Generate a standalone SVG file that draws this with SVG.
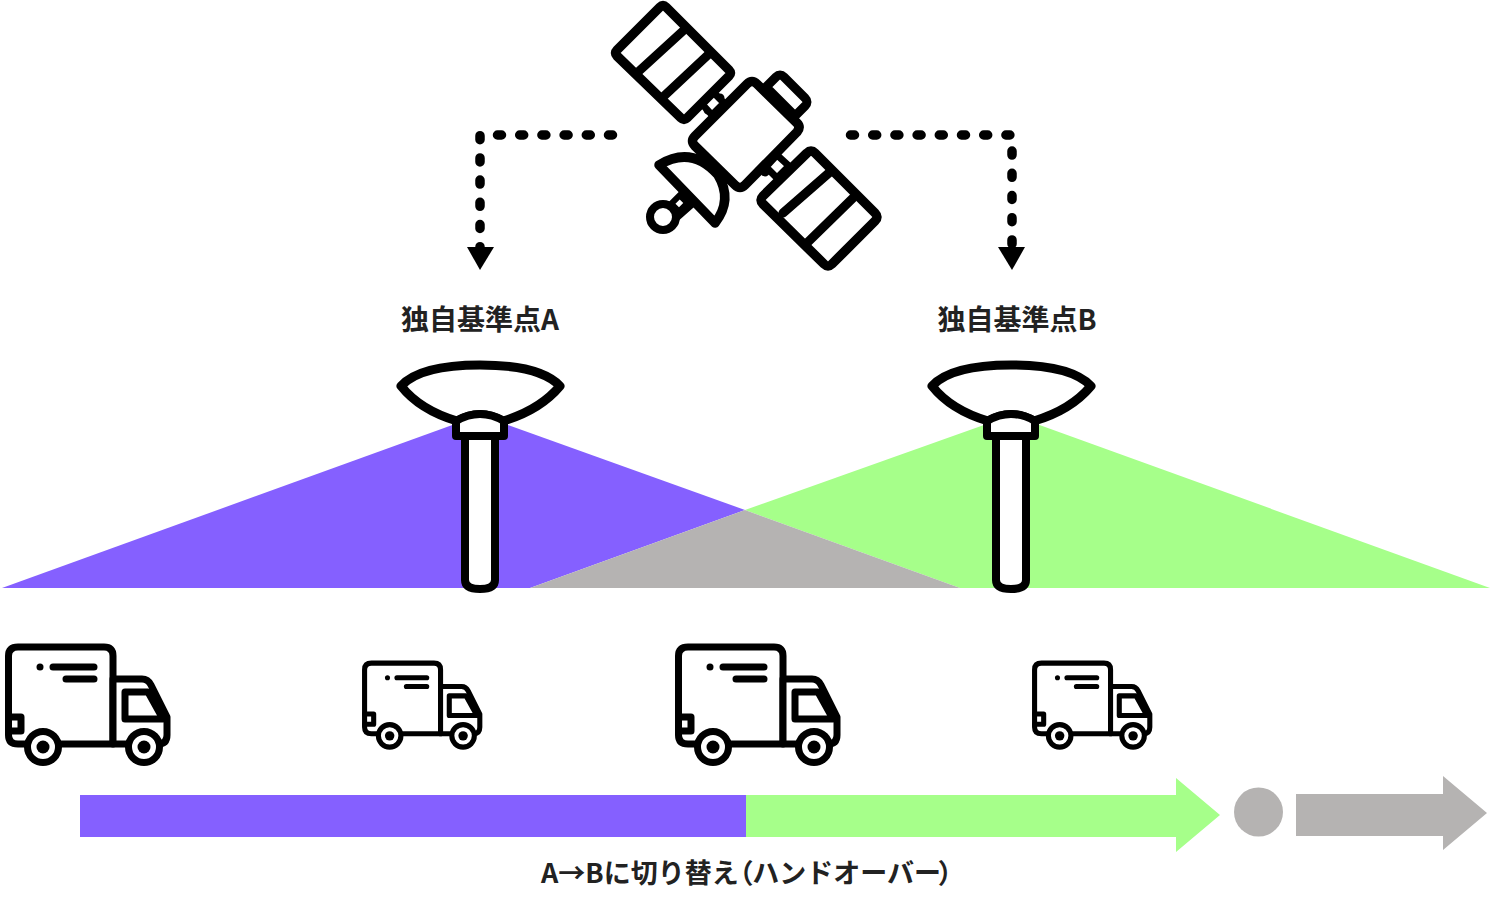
<svg xmlns="http://www.w3.org/2000/svg" width="1492" height="914" viewBox="0 0 1492 914">
<style>
.ln{fill:none;stroke:#000;stroke-linecap:round;stroke-linejoin:round}
.wh{fill:#fff;stroke:#000;stroke-linecap:round;stroke-linejoin:round}
.conn{fill:none;stroke:#000;stroke-width:9.500;stroke-linecap:round;stroke-linejoin:round;stroke-dasharray:4 18.200}
.lab{font-family:"Noto Sans CJK JP","Noto Sans",sans-serif;font-weight:700;fill:#222;font-size:28px;text-anchor:middle}
.lab2{font-family:"Noto Sans CJK JP","Noto Sans",sans-serif;font-weight:700;fill:#222;font-size:27px}
.pp{font-feature-settings:"palt"}
</style>
<defs>
<g id="truck">
<path class="wh" stroke-width="7" d="M33,744H18Q8.500,744 8.500,735V656Q8.500,647 18,647H104Q113,647 113,656V744H52"/>
<path class="wh" stroke-width="7" d="M113,679H142Q148,679 151,685L167,717V735Q167,744 158,744H113Z"/>
<path class="ln" stroke-width="7" d="M148,692H125V719H163Z"/>
<path class="ln" stroke-width="7" d="M8.500,717H21V731H8.500"/>
<circle cx="40" cy="667" r="3.500" fill="#000"/>
<path class="ln" stroke-width="7" d="M53,667H94M66,679H94"/>
<circle cx="43" cy="747" r="15.500" class="wh" stroke-width="7"/><circle cx="43" cy="747" r="6.500" fill="#000"/>
<circle cx="144" cy="747" r="15.500" class="wh" stroke-width="7"/><circle cx="144" cy="747" r="6.500" fill="#000"/>
</g>
<g id="ant">
<path class="wh" stroke-width="9" d="M401,386Q420,365 480,365Q540,365 560,386Q540,410 503,421Q480,408 457,421Q420,410 401,386Z"/>
<path class="wh" stroke-width="8" d="M465,434H495V580Q495,589 480,589Q465,589 465,580Z"/>
<path class="wh" stroke-width="8" d="M456,421Q480,407 504,421V436H456Z"/>
</g>
</defs>
<g id="coverage">
<polygon points="2,588 480,415 745,510 530,588" fill="#8560ff"/>
<polygon points="745,510 1012,415 1490,588 960,588" fill="#a6ff8a"/>
<polygon points="530,588 745,510 960,588" fill="#b5b3b2"/>
</g>
<g id="satellite">
<path class="wh" stroke-width="9" d="M708,110L720,98M720,122L732,110M765,172L777,160M778,185L790,173"/>
<path class="wh" stroke-width="7" d="M713,92L702,104L712,115L724,103ZM777,155L766,167L777,178L789,166Z"/>
<path class="wh" stroke-width="9.500" d="M660,7Q663,4 666,7L729,70Q732,73 729,76L687,118Q684,121 681,118L617,56Q614,53 617,50Z"/>
<path class="ln" stroke-width="9" d="M638,72L684,30M663,97L710,53"/>
<path class="wh" stroke-width="9.500" d="M807,153Q811,149 815,153L875,213Q879,217 875,221L832,264Q828,268 824,264L763,204Q759,200 763,196Z"/>
<path class="ln" stroke-width="9" d="M783,213L830,172M808,242L853,198"/>
<path class="wh" stroke-width="9" d="M769,84L776,77Q780,73 784,77L805,98Q809,102 805,106L795,116L766,87Z"/>
<path class="wh" stroke-width="9.500" d="M747,84Q752,79 757,84L797,123Q801,127 797,132L745,185Q740,190 735,185L695,146Q690,141 695,136Z"/>
<path class="ln" stroke-width="9" d="M671,207L684,195M675,218L692,203"/>
<rect x="673" y="198" width="12" height="11" transform="rotate(-45 679 203)" fill="#fff" stroke="#000" stroke-width="6"/>
<path class="wh" stroke-width="9.500" d="M659,165Q692,145 718,175Q733,200 715,223Z"/>
<circle cx="663" cy="217" r="13" class="wh" stroke-width="8"/>
</g>
<g id="connectors">
<path class="conn" d="M612.500,135H480V248"/>
<polygon points="467,247 494,247 480,270"/>
<path class="conn" d="M850.500,135H1012V248"/>
<polygon points="998,247 1025,247 1012,270"/>
</g>
<g id="base-a"><use href="#ant"/><text class="lab" x="480" y="330">独自基準点A</text></g>
<g id="base-b"><use href="#ant" x="531"/><text class="lab" x="1017" y="330">独自基準点B</text></g>
<g id="truck-1"><use href="#truck"/></g>
<g id="truck-2"><use href="#truck" transform="translate(358.400 192.800) scale(.727)"/></g>
<g id="truck-3"><use href="#truck" x="670"/></g>
<g id="truck-4"><use href="#truck" transform="translate(1028.400 192.800) scale(.727)"/></g>
<g id="timeline">
<rect x="80" y="795" width="666" height="42" fill="#8560ff"/>
<polygon points="746,795 1176,795 1176,778 1220,815 1176,852 1176,837 746,837" fill="#a6ff8a"/>
<circle cx="1258.500" cy="812" r="24.500" fill="#b5b3b2"/>
<polygon points="1296,794 1443,794 1443,776 1487,813 1443,850 1443,836 1296,836" fill="#b5b3b2"/>
<text class="lab2" x="541" y="883">A→Bに切り替え<tspan class="pp">（</tspan>ハンドオーバー<tspan class="pp" dx="-2">）</tspan></text>
</g>
</svg>
